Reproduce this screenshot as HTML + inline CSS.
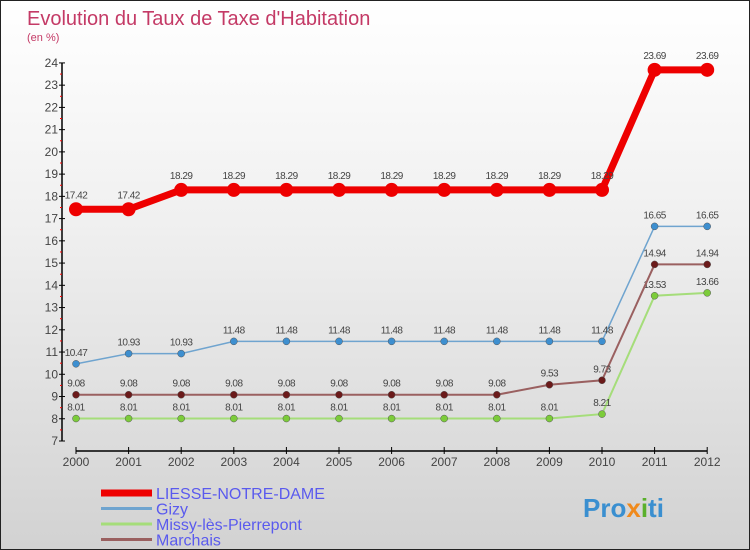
<!DOCTYPE html>
<html><head><meta charset="utf-8"><style>
body{margin:0;}
#c{width:750px;height:550px;position:relative;box-sizing:border-box;border:1px solid #222;background:linear-gradient(#fff,#f0f0f0 40%,#d2d2d2);font-family:"Liberation Sans",sans-serif;overflow:hidden}
svg text{font-family:"Liberation Sans",sans-serif}
</style></head><body>
<div id="c">
<svg id="s" width="750" height="550" xmlns="http://www.w3.org/2000/svg">
<text x="26" y="24" font-size="20" fill="#c43a66" font-weight="300">Evolution du Taux de Taxe d'Habitation</text>
<text x="26" y="40" font-size="11" fill="#c43a66">(en %)</text>
<g id="axes"></g><g id="series"></g>
<g id="legend"></g>
<text x="582" y="516" font-size="26" font-weight="bold" fill="#3a8fd0">Pro<tspan fill="#f08a1c">x</tspan><tspan fill="#5ab02c">i</tspan>ti</text>
</svg></div>
<script>
const years=['2000','2001','2002','2003','2004','2005','2006','2007','2008','2009','2010','2011','2012'];
const yTicks=[7,8,9,10,11,12,13,14,15,16,17,18,19,20,21,22,23,24];
const liesse=[17.42,17.42,18.29,18.29,18.29,18.29,18.29,18.29,18.29,18.29,18.29,23.69,23.69];
const gizy=[10.47,10.93,10.93,11.48,11.48,11.48,11.48,11.48,11.48,11.48,11.48,16.65,16.65];
const missy=[8.01,8.01,8.01,8.01,8.01,8.01,8.01,8.01,8.01,8.01,8.21,13.53,13.66];
const marchais=[9.08,9.08,9.08,9.08,9.08,9.08,9.08,9.08,9.08,9.53,9.73,14.94,14.94];
const names=['LIESSE-NOTRE-DAME','Gizy','Missy-lès-Pierrepont','Marchais'];
const NS='http://www.w3.org/2000/svg';
const xS=i=>75+i*52.6, yS=v=>440-(v-7)*22.24;
function mk(t,a,p){const e=document.createElementNS(NS,t);for(const k in a)e.setAttribute(k,a[k]);p.appendChild(e);return e;}
const ax=document.getElementById('axes');
mk('line',{x1:61,y1:62,x2:61,y2:440,stroke:'#000','stroke-width':1.5},ax);
mk('line',{x1:75,y1:450,x2:706,y2:450,stroke:'#000','stroke-width':1.5},ax);
yTicks.forEach(v=>{const y=yS(v);
mk('line',{x1:58,y1:y,x2:64,y2:y,stroke:'#000'},ax);
if(v<24)mk('line',{x1:59,y1:y-11.1,x2:61,y2:y-11.1,stroke:'#f00'},ax);
const t=mk('text',{x:57,y:y+4,'font-size':12,fill:'#444','text-anchor':'end'},ax);t.textContent=v;

});
years.forEach((yr,i)=>{const x=xS(i);
mk('line',{x1:x,y1:446,x2:x,y2:453,stroke:'#000'},ax);
const t=mk('text',{x:x,y:465,'font-size':12,fill:'#444','text-anchor':'middle'},ax);t.textContent=yr;

});
const sg=document.getElementById('series');
const defs=[[liesse,'#e00',7,7,'#e00'],[gizy,'#6fa4cf',1.5,3.5,'#3d8fd0'],[missy,'#a5dd7a',2,3.5,'#7ccc3a'],[marchais,'#9a6060',2,3.5,'#6b1a1a']];
const lg=document.getElementById('legend');
defs.forEach((d,k)=>{const [data,col,w,r,dc]=d;
const g=mk('g',{},sg);


mk('polyline',{points:data.map((v,i)=>xS(i)+','+yS(v)).join(' '),fill:'none',stroke:col,'stroke-width':w},g);
data.forEach((v,i)=>{const c=mk('circle',{cx:xS(i),cy:yS(v),r:r,fill:dc,stroke:k?'#555':'none','stroke-width':0.5},g);


const t=mk('text',{x:xS(i),y:yS(v)-(k==0?11:8),'font-size':10,fill:'#444','text-anchor':'middle','letter-spacing':'-0.5'},g);t.textContent=v.toFixed(2);

});
const ly=492+k*15.5;
mk('line',{x1:100,y1:ly,x2:151,y2:ly,stroke:k==0?'#e00':col,'stroke-width':k==0?7:3},lg);
const t=mk('text',{x:155,y:ly+6,'font-size':16,fill:'#5a5aee'},lg);t.textContent=names[k];

});
</script></body></html>
